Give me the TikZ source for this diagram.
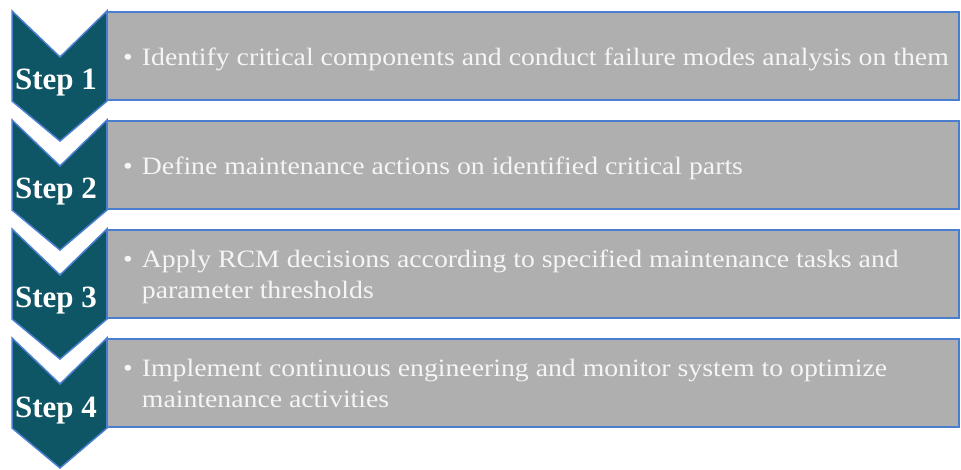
\documentclass[tikz,border=0pt]{standalone}
\usepackage{fontspec}
\setmainfont{Liberation Serif}
\newfontfamily\bodyfont{Liberation Serif}[FakeStretch=1.11]
\definecolor{chevfill}{HTML}{0E5566}
\definecolor{boxfill}{HTML}{AFAFAF}
\definecolor{edgeblue}{HTML}{4A7FCF}
\definecolor{lighttext}{HTML}{F5F5F5}
\begin{document}
\begin{tikzpicture}[x=1pt,y=-1pt,
  chevron/.style={fill=chevfill, draw=edgeblue, line width=1.5pt, line join=miter},
  stepbox/.style={fill=boxfill, draw=edgeblue, line width=2pt, anchor=north west,
    minimum width=852pt, minimum height=88pt, inner sep=0pt, outer sep=0pt},
  steplabel/.style={text=white, anchor=base, inner sep=0pt,
    font=\fontsize{31}{31}\selectfont\bfseries},
  itemtext/.style={text=lighttext, anchor=west, inner sep=0pt, align=left,
    font=\bodyfont\fontsize{25}{31}\selectfont}]
\useasboundingbox (0,0) rectangle (961,470);

% one chevron, its step box and the description per step
\foreach \k/\t/\desc in {
  1/11/{Identify critical components and conduct failure modes analysis on them},
  2/120/{Define maintenance actions on identified critical parts},
  3/229/{Apply RCM decisions according to specified maintenance tasks and\\ & parameter thresholds},
  4/338/{Implement continuous engineering and monitor system to optimize\\ & maintenance activities}}{
  \draw[chevron] (12,\t) -- (60,\t+46) -- (107,\t) -- (107,\t+90)
    -- (60,\t+130) -- (12,\t+90) -- cycle;
  \node[stepbox] (box\k) at (107,\t+1) {};
  \node[steplabel] (label\k) at (56,\t+79) {Step \k};
  \node[itemtext] (text\k) at (123,\t+48)
    {\begin{tabular}{@{}l@{\hspace{9pt}}l@{}}\textbullet & \desc\end{tabular}};
}
\end{tikzpicture}
\end{document}
